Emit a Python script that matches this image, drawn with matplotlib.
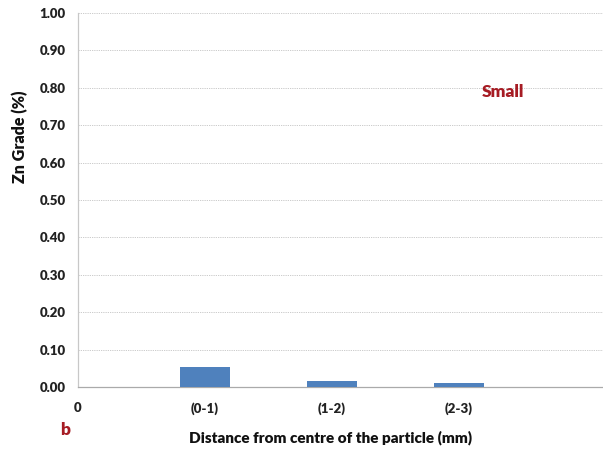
import matplotlib
matplotlib.use("Agg")
import matplotlib.pyplot as plt
import numpy as np

categories = ["0", "(0-1)", "(1-2)", "(2-3)"]
zn_grade = [0.0, 0.053, 0.017, 0.011]
y_ticks = [0.0, 0.1, 0.2, 0.3, 0.4, 0.5, 0.6, 0.7, 0.8, 0.9, 1.0]

plt.rcParams['font.family'] = ['Lato', 'DejaVu Sans']
BOLD = "heavy"

W, H = 603, 455
fig = plt.figure(figsize=(W / 100, H / 100), dpi=100)
ax = fig.add_axes([78 / W, 1 - 387 / H, 1 - 78 / W, (387 - 13) / H])

x = np.arange(len(categories))
ax.bar(x[1:], zn_grade[1:], width=0.4, color="#4F81BD", zorder=3)

ax.set_xlim(0, (W - 78) / 127)
ax.set_ylim(0, 1.0)
ax.set_yticks(y_ticks)
ax.set_yticklabels([f"{v:.2f}" for v in y_ticks], fontsize=9.5, fontweight=BOLD, color="#222222")
ax.set_xticks(x)
ax.set_xticklabels(categories, fontsize=9.5, fontweight=BOLD, color="#222222")
ax.tick_params(axis="x", length=0, pad=11)
ax.tick_params(axis="y", length=0, pad=9)

ax.yaxis.grid(True, linestyle=(0, (1.5, 1.2)), color="#C4C4C4", linewidth=0.6, zorder=0)
for side in ("top", "right"):
    ax.spines[side].set_visible(False)
ax.spines["left"].set_color("#C8C8C8")
ax.spines["bottom"].set_color("#AAAAAA")
ax.spines["left"].set_linewidth(0.9)
ax.spines["bottom"].set_linewidth(0.9)

fig.text(20 / W, 1 - 137 / H, "Zn Grade (%)", rotation=90, ha="center", va="center",
         fontsize=11.5, fontweight=BOLD, color="#111111")
fig.text(331 / W, 1 - 438 / H, "Distance from centre of the particle (mm)", ha="center", va="center",
         fontsize=11, fontweight=BOLD, color="#111111")
fig.text(503 / W, 1 - 92 / H, "Small", ha="center", va="center",
         fontsize=12.5, fontweight=BOLD, color="#A61C24")
fig.text(65 / W, 1 - 430 / H, "b", ha="center", va="center",
         fontsize=12.5, fontweight=BOLD, color="#A61C24")

fig.savefig("out.png", dpi=100)
